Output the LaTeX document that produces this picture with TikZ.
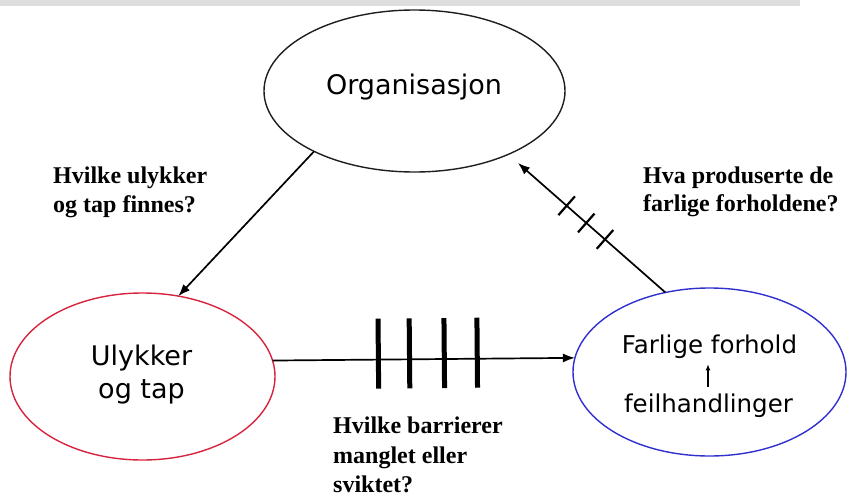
\documentclass[tikz,border=0pt]{standalone}
\usepackage{fontspec}
\setmainfont{DejaVu Sans}
\newfontfamily\qserif{Liberation Serif}
\usetikzlibrary{shapes.geometric,arrows.meta,decorations.markings}
\definecolor{ulyred}{RGB}{214,36,62}
\definecolor{farblue}{RGB}{48,48,206}
\definecolor{orgline}{RGB}{30,30,30}
\definecolor{bargray}{RGB}{222,222,222}
\begin{document}
\begin{tikzpicture}[x=1pt,y=-1pt,
  oval/.style={ellipse,draw,line width=1.4pt,inner sep=0pt,outer sep=0pt},
  biglbl/.style={inner sep=0pt,anchor=base,font=\fontsize{27}{32}\selectfont},
  midlbl/.style={inner sep=0pt,anchor=base,font=\fontsize{24.5}{29}\selectfont},
  qlbl/.style={inner sep=0pt,anchor=base west,font=\qserif\bfseries\fontsize{24}{29}\selectfont},
  conn/.style={line width=1.7pt,-{Latex[length=12pt,width=9pt]}},
  barmark/.style={line width=5pt,-},
  tickmark/.style={line width=2.2pt,-},
  hbars/.style={postaction={decorate},decoration={markings,
     mark=at position 0.350 with {\draw[barmark] (0pt,-29pt)--(0pt,41pt);},
     mark=at position 0.453 with {\draw[barmark] (0pt,-29pt)--(0pt,41pt);},
     mark=at position 0.568 with {\draw[barmark] (0pt,-29pt)--(0pt,41pt);},
     mark=at position 0.677 with {\draw[barmark] (0pt,-29pt)--(0pt,41pt);}}},
  dticks/.style={postaction={decorate},decoration={markings,
     mark=at position 0.41 with {\draw[tickmark] (0pt,-12.5pt)--(0pt,12.5pt);},
     mark=at position 0.537 with {\draw[tickmark] (0pt,-12.5pt)--(0pt,12.5pt);},
     mark=at position 0.67 with {\draw[tickmark] (0pt,-12.5pt)--(0pt,12.5pt);}}}
]
\useasboundingbox (0,0) rectangle (847,496);
\fill[bargray] (0,0) rectangle (800,5.5);

% ellipses
\node[oval,draw=orgline,minimum width=301pt,minimum height=162pt] (org) at (414.5,91) {};
\node[oval,draw=ulyred,minimum width=265pt,minimum height=167pt] (uly) at (142.5,376.5) {};
\node[oval,draw=farblue,minimum width=273pt,minimum height=168pt] (far) at (709.5,372) {};

% labels in ellipses
\node[biglbl] (orgt) at (414,94) {Organisasjon};
\node[biglbl] (ulyt1) at (141.5,365) {Ulykker};
\node[biglbl] (ulyt2) at (141.5,398) {og tap};
\node[midlbl] (fart1) at (709.5,353) {Farlige forhold};
\node[midlbl] (fart2) at (708.5,412) {feilhandlinger};
\draw[line width=1.2pt,-{Latex[length=6pt,width=5pt]},shorten <=6pt,shorten >=6pt] (fart2.north -| 708,0) -- (fart1.south -| 708,0);

% connectors
\coordinate (tipB) at (518,163);
\draw[conn] (org.211.9) -- (uly.66.2);
\draw[conn,dticks] (far.119.3) -- (tipB);
\draw[conn,hbars] (uly.7.7) -- (far.174.5);

% questions
\node[qlbl] (q1a) at (53,183) {Hvilke ulykker};
\node[qlbl] (q1b) at (53,212) {og tap finnes?};
\node[qlbl] (q2a) at (643,183) {Hva produserte de};
\node[qlbl] (q2b) at (643,211.5) {farlige forholdene?};
\node[qlbl] (q3a) at (333,433) {Hvilke barrierer};
\node[qlbl] (q3b) at (333,463) {manglet eller};
\node[qlbl] (q3c) at (333,492) {sviktet?};
\end{tikzpicture}
\end{document}
